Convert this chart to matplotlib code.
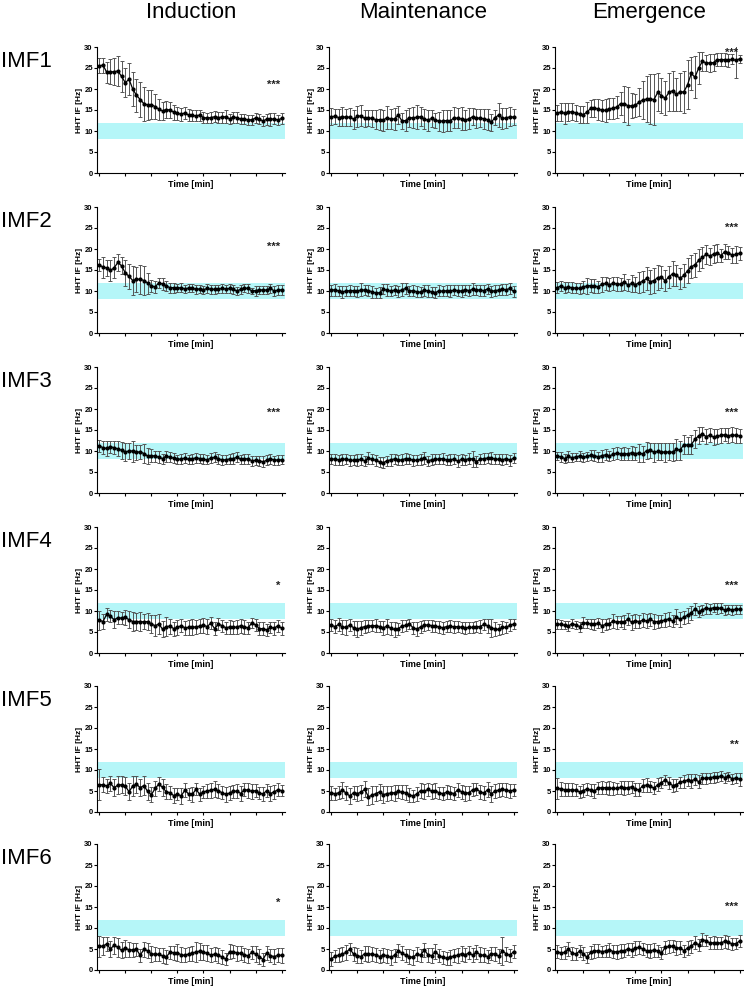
import numpy as np
import matplotlib
matplotlib.use("Agg")
import matplotlib.pyplot as plt

plt.rcParams['font.family'] = ['Liberation Sans', 'DejaVu Sans']

phases = ["Induction", "Maintenance", "Emergence"]
imfs = ["IMF1", "IMF2", "IMF3", "IMF4", "IMF5", "IMF6"]
band_low, band_high = 8, 12

# ---- IMF1 ----
imf1_ind = [25.5, 25.7, 24.0, 24.1, 24.1, 24.3, 23.0, 21.5, 22.3, 20.0, 18.5, 17.5, 16.5, 16.2, 16.3, 15.8, 15.2, 14.8, 15.1, 15.0,
            14.5, 14.2, 14.0, 14.3, 13.8, 13.7, 13.6, 13.8, 13.2, 13.1, 13.2, 13.4, 13.2, 13.3, 13.4, 12.9, 13.3, 13.2, 12.8, 12.9,
            12.6, 12.7, 13.1, 12.8, 12.4, 12.8, 12.8, 12.9, 12.6, 13.0]
imf1_ind_err = [1.8, 1.8, 2.5, 3.0, 3.2, 3.5, 3.6, 3.5, 3.8, 4.0, 4.0, 4.2, 4.0, 3.5, 3.5, 3.0, 2.5, 2.2, 2.0, 2.0,
                1.8, 1.6, 1.5, 1.5, 1.4, 1.4, 1.3, 1.3, 1.3, 1.3, 1.3, 1.3, 1.4, 1.3, 1.5, 1.2, 1.3, 1.3, 1.2, 1.2,
                1.2, 1.2, 1.3, 1.2, 1.1, 1.3, 1.5, 1.3, 1.2, 1.4]
imf1_mai = [13.4, 13.5, 13.2, 13.4, 13.3, 13.3, 12.8, 13.5, 13.6, 13.0, 13.1, 13.0, 12.7, 12.7, 12.6, 13.2, 12.8, 12.9, 13.8, 12.4,
            12.5, 13.2, 13.1, 13.3, 13.4, 12.8, 12.6, 13.0, 12.6, 12.3, 12.4, 12.5, 12.4, 13.2, 13.0, 12.9, 12.6, 12.9, 13.4, 13.0,
            13.1, 12.9, 12.7, 12.1, 13.2, 13.8, 13.0, 13.1, 13.4, 13.3]
imf1_mai_err = [2.0, 1.8, 2.0, 2.2, 2.0, 2.2, 2.3, 2.5, 2.5, 2.0, 1.8, 2.0, 2.3, 2.5, 2.5, 2.7, 2.4, 2.6, 2.2, 2.0,
                2.5, 2.3, 2.5, 2.8, 2.2, 2.4, 2.5, 2.0, 1.8, 2.2, 2.7, 2.5, 2.5, 2.5, 2.4, 2.7, 2.3, 2.5, 2.0, 2.3,
                2.2, 2.4, 2.5, 2.0, 1.8, 2.9, 2.5, 2.4, 2.2, 1.9]
imf1_eme = [14.3, 14.5, 14.2, 14.5, 14.6, 14.3, 14.0, 13.9, 14.5, 15.4, 15.5, 15.2, 15.0, 14.9, 15.3, 15.4, 15.7, 16.5, 16.5, 16.0,
            16.0, 16.1, 16.9, 17.4, 17.6, 17.6, 17.5, 19.2, 18.4, 17.8, 19.2, 19.6, 18.7, 19.3, 19.3, 21.0, 23.7, 22.8, 25.0, 26.6,
            26.2, 26.2, 26.3, 27.0, 27.0, 27.0, 26.8, 27.1, 26.8, 27.2]
imf1_eme_err = [2.0, 2.2, 2.5, 2.2, 2.0, 2.0, 2.0, 2.0, 2.5, 2.0, 2.2, 2.5, 2.5, 2.7, 2.5, 2.5, 2.6, 2.8, 4.3, 4.5,
                3.0, 2.8, 3.3, 4.5, 5.5, 6.0, 6.0, 4.5, 4.2, 4.0, 4.5, 4.8, 4.0, 4.6, 5.0, 5.8, 4.0, 5.0, 3.8, 2.3,
                2.0, 2.2, 2.0, 1.5, 1.5, 1.6, 1.6, 1.2, 4.2, 1.0]

# ---- IMF2 ----
imf2_ind = [16.2, 15.7, 15.5, 14.9, 15.5, 16.8, 16.0, 14.3, 13.5, 12.5, 12.8, 12.8, 12.5, 11.9, 11.2, 11.0, 11.9, 11.7, 11.2, 10.8,
            10.8, 10.7, 10.8, 10.5, 10.7, 10.7, 10.4, 10.5, 10.3, 10.6, 10.4, 10.4, 10.5, 10.6, 10.5, 10.6, 10.4, 10.0, 10.4, 10.7,
            10.6, 10.0, 10.1, 10.2, 10.3, 10.2, 10.6, 10.0, 10.2, 10.3]
imf2_ind_err = [1.5, 2.5, 2.0, 2.5, 2.5, 2.0, 2.0, 3.0, 3.0, 3.5, 3.0, 3.5, 3.5, 2.5, 1.5, 1.5, 1.3, 1.5, 1.3, 1.2,
                1.2, 1.0, 1.0, 1.0, 1.0, 1.0, 1.0, 0.9, 1.0, 1.0, 1.0, 1.0, 0.9, 1.0, 1.0, 1.0, 1.0, 1.0, 1.0, 1.0,
                1.0, 0.8, 1.2, 1.0, 1.0, 1.0, 1.0, 1.3, 1.2, 1.2]
imf2_mai = [10.2, 10.3, 10.0, 9.8, 10.0, 10.1, 10.1, 9.9, 10.3, 10.2, 10.1, 9.8, 9.5, 9.6, 10.4, 10.2, 10.0, 10.2, 9.9, 10.3,
            10.6, 10.0, 10.1, 9.8, 9.7, 10.2, 10.0, 9.8, 9.6, 10.1, 9.9, 10.1, 10.0, 10.2, 10.1, 10.0, 10.3, 10.1, 10.4, 10.3,
            10.2, 10.1, 10.5, 9.9, 10.1, 10.2, 10.4, 10.3, 10.6, 9.9]
imf2_mai_err = [1.3, 1.4, 1.2, 1.5, 1.3, 1.4, 1.2, 1.3, 1.5, 1.2, 1.3, 1.4, 1.2, 1.3, 1.2, 1.4, 1.3, 1.2, 1.4, 1.5,
                1.3, 1.2, 1.4, 1.3, 1.2, 1.3, 1.5, 1.2, 1.3, 1.4, 1.2, 1.3, 1.4, 1.2, 1.3, 1.5, 1.2, 1.3, 1.4, 1.2,
                1.3, 1.4, 1.2, 1.3, 1.4, 1.2, 1.3, 1.3, 1.2, 1.4]
imf2_eme = [10.8, 11.2, 10.8, 10.9, 10.8, 10.7, 10.6, 11.0, 11.2, 11.3, 11.2, 11.0, 11.6, 11.8, 11.5, 11.8, 11.7, 11.6, 12.2, 11.4,
            11.8, 11.5, 12.0, 12.3, 13.0, 12.2, 12.5, 13.2, 13.3, 12.4, 13.4, 14.1, 13.7, 13.0, 13.7, 14.8, 15.8, 16.2, 17.3, 18.0,
            18.7, 18.3, 18.8, 19.1, 18.4, 19.4, 19.1, 18.5, 18.7, 19.0]
imf2_eme_err = [1.3, 1.2, 1.3, 1.2, 1.3, 1.2, 1.3, 1.5, 1.8, 1.5, 1.7, 1.5, 1.8, 1.5, 1.6, 1.5, 1.7, 1.5, 1.9, 1.5,
                2.0, 1.8, 2.5, 2.5, 2.8, 2.8, 3.0, 3.0, 2.6, 2.5, 2.6, 3.0, 2.5, 2.5, 2.8, 3.0, 2.8, 2.8, 2.6, 2.5,
                2.3, 2.0, 2.2, 2.1, 1.5, 1.8, 1.5, 1.8, 2.0, 1.5]

# ---- IMF3 ----
imf3_ind = [11.2, 10.8, 10.6, 11.0, 10.8, 10.5, 10.2, 9.8, 10.0, 10.0, 9.7, 9.8, 9.4, 8.8, 8.9, 8.8, 8.5, 8.2, 8.8, 8.5,
            8.3, 8.0, 8.1, 8.3, 8.0, 8.1, 8.4, 8.2, 8.0, 7.9, 8.3, 8.5, 8.1, 7.9, 7.9, 8.1, 8.2, 8.5, 8.0, 8.2,
            8.1, 7.7, 7.8, 7.7, 7.4, 7.8, 8.2, 7.8, 7.9, 7.9]
imf3_ind_err = [1.5, 1.6, 1.8, 1.5, 1.6, 1.8, 2.0, 2.2, 2.0, 2.5, 1.8, 1.7, 2.2, 2.0, 1.5, 1.3, 1.4, 1.2, 1.3, 1.2,
                1.2, 1.1, 1.2, 1.2, 1.1, 1.2, 1.2, 1.1, 1.2, 1.1, 1.2, 1.2, 1.1, 1.2, 1.1, 1.2, 1.3, 1.2, 1.1, 1.2,
                1.1, 1.2, 1.1, 1.2, 1.3, 1.2, 1.2, 1.1, 1.2, 1.1]
imf3_mai = [8.2, 8.0, 7.9, 8.0, 8.1, 7.8, 7.8, 7.9, 8.0, 7.7, 8.3, 8.0, 7.8, 7.4, 7.2, 7.7, 7.9, 8.1, 7.8, 7.9,
            8.2, 8.1, 7.8, 7.8, 8.0, 8.3, 7.7, 7.9, 8.0, 8.1, 8.2, 7.8, 7.9, 8.1, 7.6, 8.0, 7.9, 8.2, 8.1, 7.5,
            8.0, 8.2, 8.3, 8.3, 8.1, 8.0, 7.9, 8.2, 7.8, 8.3]
imf3_mai_err = [1.2, 1.3, 1.2, 1.4, 1.2, 1.3, 1.2, 1.4, 1.3, 1.2, 1.4, 1.2, 1.3, 1.2, 1.3, 1.2, 1.4, 1.3, 1.2, 1.3,
                1.4, 1.2, 1.3, 1.2, 1.3, 1.4, 1.2, 1.3, 1.2, 1.3, 1.4, 1.2, 1.3, 1.2, 1.4, 1.3, 1.2, 1.3, 1.8, 1.4,
                1.2, 1.3, 1.2, 1.4, 1.3, 1.2, 1.3, 1.2, 1.3, 1.2]
imf3_eme = [8.8, 8.6, 8.2, 8.7, 8.4, 8.6, 8.8, 8.5, 8.7, 9.0, 8.9, 8.6, 8.9, 9.1, 8.8, 9.2, 9.5, 9.3, 9.4, 9.3,
            9.6, 9.4, 9.5, 9.3, 10.1, 10.2, 9.7, 9.9, 9.8, 9.7, 9.8, 9.7, 10.4, 10.2, 11.5, 11.4, 11.5, 12.8, 13.6, 14.1,
            13.4, 13.8, 13.3, 13.5, 13.7, 13.9, 13.6, 13.9, 13.7, 13.6]
imf3_eme_err = [1.0, 1.1, 1.0, 1.2, 1.1, 1.0, 1.2, 1.1, 1.0, 1.2, 1.3, 1.2, 1.4, 1.3, 1.2, 1.4, 1.5, 1.4, 1.6, 1.5,
                1.7, 1.6, 2.2, 2.0, 2.0, 1.8, 2.2, 2.1, 2.0, 2.2, 2.0, 2.1, 2.5, 2.3, 2.2, 2.0, 2.3, 2.2, 2.0, 1.6,
                1.8, 1.7, 1.9, 1.8, 1.7, 1.6, 1.8, 1.7, 1.7, 1.6]

# ---- IMF4 ----
imf4_ind = [7.8, 7.5, 9.2, 8.8, 7.9, 8.4, 8.3, 8.5, 7.9, 7.5, 7.5, 7.5, 7.4, 7.5, 6.9, 6.5, 6.9, 5.7, 6.3, 6.4,
            5.8, 6.1, 6.5, 6.0, 6.1, 6.2, 6.2, 6.4, 6.6, 6.3, 7.1, 5.8, 6.9, 6.5, 6.0, 6.2, 6.1, 6.2, 6.5, 6.2,
            6.0, 7.2, 6.7, 5.8, 5.8, 5.5, 6.1, 5.9, 6.5, 5.9]
imf4_ind_err = [2.3, 1.7, 1.5, 1.5, 2.0, 1.5, 1.4, 1.8, 2.0, 2.2, 2.0, 2.3, 1.8, 2.0, 2.2, 2.5, 2.3, 2.0, 2.2, 1.8,
                1.7, 1.8, 1.6, 1.7, 1.8, 1.8, 1.7, 1.6, 1.8, 1.7, 1.5, 1.6, 1.5, 1.4, 1.5, 1.6, 1.5, 1.6, 1.7, 1.6,
                1.5, 1.2, 1.4, 1.5, 1.6, 1.5, 1.4, 1.5, 1.4, 1.5]
imf4_mai = [6.6, 6.3, 6.8, 6.2, 6.1, 6.7, 6.0, 5.7, 6.0, 6.3, 6.4, 6.5, 6.5, 6.3, 6.0, 6.4, 5.9, 5.6, 5.8, 6.4,
            6.6, 6.9, 6.0, 5.7, 6.2, 6.6, 6.7, 6.5, 6.4, 6.2, 6.0, 6.3, 6.4, 6.2, 6.3, 6.1, 6.0, 6.1, 6.1, 6.3,
            6.3, 6.8, 6.5, 6.0, 5.7, 5.6, 6.1, 6.1, 6.6, 6.9]
imf4_mai_err = [1.4, 1.5, 1.6, 1.7, 1.8, 1.5, 1.6, 1.9, 1.7, 1.5, 1.4, 1.3, 1.5, 1.4, 1.6, 1.8, 1.5, 1.7, 1.4, 1.5,
                1.3, 1.2, 1.5, 1.6, 1.4, 1.3, 1.2, 1.4, 1.3, 1.5, 1.4, 1.3, 1.4, 1.5, 1.3, 1.4, 1.5, 1.4, 1.3, 1.4,
                1.5, 1.4, 1.7, 2.2, 1.6, 1.4, 1.5, 1.3, 1.4, 1.2]
imf4_eme = [6.9, 6.8, 6.6, 6.4, 7.0, 6.7, 6.3, 7.2, 7.1, 6.9, 6.8, 7.1, 6.5, 6.8, 7.0, 7.6, 7.3, 7.5, 7.4, 8.1,
            7.3, 7.6, 7.5, 7.8, 7.6, 8.0, 7.5, 7.5, 7.6, 7.9, 8.1, 7.6, 8.6, 8.0, 8.5, 9.0, 9.5, 10.5, 9.8, 10.3,
            10.7, 10.5, 10.8, 10.6, 10.7, 10.2, 10.4, 10.3, 10.4, 10.4]
imf4_eme_err = [1.2, 1.1, 1.0, 1.2, 1.1, 1.0, 1.2, 1.3, 1.1, 1.2, 1.3, 1.2, 1.5, 1.4, 1.3, 1.6, 1.5, 1.4, 1.7, 1.5,
                1.8, 1.6, 1.5, 1.7, 1.6, 1.5, 1.8, 1.6, 1.5, 1.6, 1.7, 1.5, 1.8, 1.7, 1.6, 1.8, 1.6, 1.5, 1.3, 1.2,
                1.3, 1.2, 1.1, 1.2, 1.1, 1.2, 1.1, 1.2, 1.0, 1.1]

# ---- IMF5 ----
imf5_ind = [6.5, 6.5, 6.2, 6.8, 5.8, 6.4, 6.5, 6.2, 4.8, 6.2, 6.6, 5.8, 6.3, 4.9, 4.1, 5.6, 6.6, 5.9, 4.8, 4.6,
            3.9, 4.3, 3.8, 5.2, 4.3, 4.2, 5.4, 4.2, 4.8, 5.0, 5.2, 5.4, 5.0, 4.6, 4.2, 4.5, 4.9, 5.0, 4.4, 5.3,
            5.2, 4.9, 5.1, 4.5, 4.3, 5.1, 4.4, 4.8, 5.3, 5.1]
imf5_ind_err = [3.7, 1.8, 1.6, 1.8, 2.0, 2.2, 2.0, 2.2, 2.0, 2.3, 2.0, 2.1, 2.2, 2.0, 1.8, 1.9, 1.7, 2.0, 1.8, 1.6,
                1.7, 1.5, 1.8, 1.6, 1.5, 1.7, 1.4, 1.6, 1.5, 1.6, 1.8, 1.9, 1.6, 1.5, 1.7, 1.6, 1.5, 1.6, 1.7, 1.6,
                1.8, 1.7, 1.6, 1.5, 1.6, 1.5, 1.7, 1.6, 1.5, 1.4]
imf5_mai = [4.6, 4.3, 4.6, 5.2, 4.5, 3.8, 4.6, 4.4, 4.7, 5.4, 3.6, 4.0, 4.4, 4.8, 4.1, 4.4, 4.5, 4.6, 4.9, 4.7,
            4.6, 4.1, 3.8, 4.3, 5.1, 4.9, 5.4, 4.9, 5.1, 4.5, 4.4, 4.7, 4.6, 4.4, 5.3, 4.8, 4.5, 4.6, 5.3, 5.5,
            4.8, 4.5, 5.3, 4.3, 5.0, 5.2, 5.4, 5.2, 5.0, 5.2]
imf5_mai_err = [1.7, 1.5, 1.6, 1.9, 1.7, 1.8, 1.6, 1.7, 1.8, 1.9, 2.0, 2.1, 1.8, 1.9, 2.0, 1.8, 1.7, 1.9, 1.6, 1.7,
                1.8, 1.6, 1.5, 1.7, 1.8, 1.7, 1.6, 1.8, 1.7, 1.5, 1.6, 1.7, 1.6, 1.5, 1.7, 1.6, 1.8, 1.7, 1.6, 1.5,
                1.7, 1.6, 1.8, 1.9, 1.7, 1.6, 1.5, 1.7, 1.6, 1.5]
imf5_eme = [5.6, 5.5, 5.3, 5.3, 5.3, 5.2, 4.8, 5.1, 5.5, 5.2, 5.0, 5.7, 5.8, 5.8, 5.7, 5.6, 5.6, 5.9, 5.7, 5.8,
            6.0, 5.4, 5.3, 6.3, 6.4, 6.1, 5.7, 6.5, 7.0, 7.6, 6.9, 6.3, 6.5, 7.1, 7.3, 7.6, 7.4, 7.8, 7.2, 8.0,
            8.0, 8.2, 8.3, 8.3, 8.6, 8.2, 8.5, 7.9, 8.1, 7.8]
imf5_eme_err = [2.6, 1.6, 1.5, 1.6, 1.5, 1.4, 1.5, 1.6, 1.4, 1.5, 1.6, 1.5, 1.6, 1.4, 1.6, 1.5, 1.4, 1.5, 1.6, 1.5,
                1.4, 1.5, 1.6, 1.5, 1.6, 1.4, 1.5, 1.6, 1.4, 1.1, 1.5, 1.6, 1.4, 1.3, 1.5, 1.4, 1.6, 1.3, 1.5, 1.4,
                1.3, 1.2, 1.3, 1.2, 1.1, 1.2, 1.1, 1.2, 1.3, 1.5]

# ---- IMF6 ----
imf6_ind = [5.6, 5.7, 6.2, 5.0, 5.9, 5.4, 4.7, 5.2, 4.8, 4.8, 4.9, 3.5, 4.9, 4.6, 3.8, 3.8, 3.7, 3.4, 3.1, 4.2,
            4.1, 4.1, 3.6, 3.5, 3.8, 4.0, 4.3, 4.5, 4.2, 4.0, 3.5, 3.8, 3.5, 3.1, 2.6, 4.4, 4.4, 4.0, 4.0, 3.6,
            3.4, 4.2, 3.8, 3.2, 2.5, 4.1, 3.4, 3.2, 3.5, 3.5]
imf6_ind_err = [2.6, 2.2, 1.6, 1.8, 2.0, 2.2, 1.9, 2.0, 1.8, 1.7, 1.6, 1.5, 1.7, 1.8, 1.9, 1.7, 1.6, 1.8, 1.7, 1.6,
                1.7, 2.0, 1.8, 1.7, 1.6, 1.8, 2.4, 2.0, 1.8, 1.9, 1.7, 1.6, 1.8, 1.7, 1.5, 1.7, 1.6, 1.8, 1.7, 1.6,
                1.7, 1.6, 1.8, 1.7, 1.5, 1.7, 1.6, 1.8, 1.7, 1.8]
imf6_mai = [2.6, 3.3, 3.5, 3.8, 4.2, 5.0, 3.8, 3.4, 3.2, 3.9, 3.8, 3.8, 3.6, 3.2, 3.6, 3.4, 3.0, 3.5, 4.6, 4.0,
            3.5, 3.2, 3.0, 3.8, 3.5, 4.8, 3.6, 3.4, 4.4, 3.4, 3.0, 2.8, 3.0, 3.4, 3.5, 3.9, 3.6, 4.1, 3.5, 4.3,
            3.6, 3.5, 3.2, 3.9, 3.8, 3.3, 4.6, 3.8, 3.5, 4.4]
imf6_mai_err = [1.6, 1.5, 1.7, 1.6, 1.8, 1.5, 1.7, 1.8, 1.6, 1.7, 1.8, 1.6, 1.7, 1.5, 1.6, 1.7, 1.8, 1.6, 1.5, 1.7,
                1.6, 1.8, 1.7, 1.6, 1.5, 1.7, 1.6, 1.8, 1.7, 1.6, 1.5, 1.6, 1.7, 1.6, 1.8, 1.7, 1.6, 1.5, 1.7, 1.6,
                1.8, 1.7, 1.6, 1.5, 1.7, 1.6, 3.3, 1.7, 1.6, 1.5]
imf6_eme = [4.4, 4.0, 4.2, 5.0, 4.0, 3.8, 4.5, 3.9, 3.0, 4.2, 4.5, 4.6, 4.4, 4.5, 4.8, 4.4, 4.3, 4.5, 4.6, 5.0,
            4.8, 5.2, 5.4, 5.0, 4.6, 4.5, 4.8, 4.5, 4.0, 5.4, 5.6, 5.7, 5.2, 5.3, 4.6, 5.2, 5.6, 6.5, 6.0, 7.2,
            7.0, 6.4, 6.5, 6.4, 6.5, 6.8, 6.6, 6.2, 6.3, 6.9]
imf6_eme_err = [1.5, 1.4, 1.5, 1.6, 1.5, 1.4, 1.5, 1.6, 1.3, 1.5, 1.6, 1.5, 1.4, 1.5, 1.6, 1.5, 1.6, 1.7, 1.6, 1.5,
                1.6, 1.7, 1.6, 1.5, 1.6, 1.7, 1.6, 1.5, 1.4, 1.5, 1.6, 1.5, 1.6, 1.5, 1.4, 1.6, 1.5, 1.6, 1.4, 1.5,
                1.4, 1.5, 1.6, 1.5, 1.4, 1.5, 1.6, 1.5, 1.4, 1.5]

means = [[imf1_ind, imf1_mai, imf1_eme],
         [imf2_ind, imf2_mai, imf2_eme],
         [imf3_ind, imf3_mai, imf3_eme],
         [imf4_ind, imf4_mai, imf4_eme],
         [imf5_ind, imf5_mai, imf5_eme],
         [imf6_ind, imf6_mai, imf6_eme]]
errors = [[imf1_ind_err, imf1_mai_err, imf1_eme_err],
          [imf2_ind_err, imf2_mai_err, imf2_eme_err],
          [imf3_ind_err, imf3_mai_err, imf3_eme_err],
          [imf4_ind_err, imf4_mai_err, imf4_eme_err],
          [imf5_ind_err, imf5_mai_err, imf5_eme_err],
          [imf6_ind_err, imf6_mai_err, imf6_eme_err]]
stars = [["***", "", "***"],
         ["***", "", "***"],
         ["***", "", "***"],
         ["*", "", "***"],
         ["", "", "**"],
         ["*", "", "***"]]

# layout in pixels of the 744x986 picture
W, H = 744, 986
col_left = [97, 329, 555]
ax_w = 188
row_zero = [173, 333, 493, 653, 812, 970]
ax_h = 126
star_y = [[21, 0, 28.5], [20.5, 0, 25], [19, 0, 19], [16, 0, 16], [0, 0, 16], [16, 0, 15]]


def DrawPanel(ax, vals, errs, star, sy):
    x = np.arange(len(vals))
    ax.axhspan(band_low, band_high, color='#b5f6f8', lw=0, zorder=0)
    ax.errorbar(x, vals, yerr=errs, fmt='none', ecolor='#555555', elinewidth=0.7,
                capsize=1.3, capthick=0.7, zorder=2)
    ax.plot(x, vals, '-o', color='black', lw=0.9, markersize=2.0, zorder=3)
    if star:
        ax.text(0.975, sy, star, transform=ax.get_yaxis_transform(), ha='right',
                va='center', fontsize=8, fontweight='bold', color='#222222')
    ax.set_xlim(-0.6, 49.9)
    ax.set_ylim(0, 30)
    ax.set_yticks([0, 5, 10, 15, 20, 25, 30])
    ax.set_xticks(np.arange(0, 50, 7))
    ax.set_xticklabels([])
    ax.spines['top'].set_visible(False)
    ax.spines['right'].set_visible(False)
    ax.spines['left'].set_bounds(0, 30)
    ax.tick_params(axis='both', length=2, width=0.8, pad=1, labelsize=5.5)
    for lab in ax.get_yticklabels():
        lab.set_fontweight('bold')
    ax.set_ylabel('HHT IF [Hz]', fontsize=6, fontweight='bold', labelpad=1)
    ax.set_xlabel('Time [min]', fontsize=6.5, fontweight='bold', labelpad=2)


fig = plt.figure(figsize=(W / 100, H / 100), dpi=100)
for r in range(len(imfs)):
    for c in range(len(phases)):
        rect = [col_left[c] / W, 1 - row_zero[r] / H, ax_w / W, ax_h / H]
        ax = fig.add_axes(rect)
        DrawPanel(ax, means[r][c], errors[r][c], stars[r][c], star_y[r][c])
    fig.text(1 / W, 1 - (row_zero[r] - ax_h + 20) / H, imfs[r], fontsize=16,
             ha='left', va='baseline')

for c in range(len(phases)):
    fig.text((col_left[c] + ax_w / 2) / W, 1 - 18 / H, phases[c], fontsize=16,
             ha='center', va='baseline')

fig.savefig('out.png', dpi=100)
